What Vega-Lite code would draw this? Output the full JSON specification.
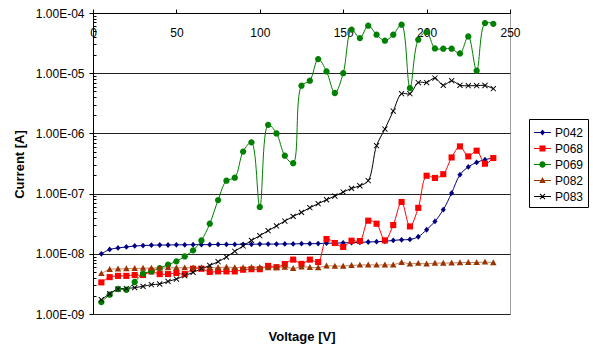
{
"$schema":"https://vega.github.io/schema/vega-lite/v6.json",
"width":417,"height":301,
"autosize":"none",
"padding":{"left":93,"top":13,"right":83,"bottom":33},
"background":"white",
"config":{"font":"Liberation Sans","view":{"stroke":"#a0a0a0","strokeWidth":1},
 "axis":{"labelColor":"#000","titleColor":"#000","domainColor":"#000","tickColor":"#000","labelFont":"Liberation Sans","titleFont":"Liberation Sans"},
 "legend":{"labelFont":"Liberation Sans"}},
"data":{"values":[
{"V":5,"s":"P042","I":1.0e-8},{"V":10,"s":"P042","I":1.18e-8},{"V":15,"s":"P042","I":1.25e-8},{"V":20,"s":"P042","I":1.3e-8},{"V":25,"s":"P042","I":1.35e-8},{"V":30,"s":"P042","I":1.37e-8},{"V":35,"s":"P042","I":1.39e-8},{"V":40,"s":"P042","I":1.4e-8},{"V":45,"s":"P042","I":1.4e-8},{"V":50,"s":"P042","I":1.41e-8},{"V":55,"s":"P042","I":1.41e-8},{"V":60,"s":"P042","I":1.42e-8},{"V":65,"s":"P042","I":1.42e-8},{"V":70,"s":"P042","I":1.42e-8},{"V":75,"s":"P042","I":1.43e-8},{"V":80,"s":"P042","I":1.43e-8},{"V":85,"s":"P042","I":1.43e-8},{"V":90,"s":"P042","I":1.44e-8},{"V":95,"s":"P042","I":1.44e-8},{"V":100,"s":"P042","I":1.45e-8},{"V":105,"s":"P042","I":1.45e-8},{"V":110,"s":"P042","I":1.45e-8},{"V":115,"s":"P042","I":1.46e-8},{"V":120,"s":"P042","I":1.46e-8},{"V":125,"s":"P042","I":1.47e-8},{"V":130,"s":"P042","I":1.47e-8},{"V":135,"s":"P042","I":1.48e-8},{"V":140,"s":"P042","I":1.5e-8},{"V":145,"s":"P042","I":1.5e-8},{"V":150,"s":"P042","I":1.52e-8},{"V":155,"s":"P042","I":1.53e-8},{"V":160,"s":"P042","I":1.55e-8},{"V":165,"s":"P042","I":1.57e-8},{"V":170,"s":"P042","I":1.59e-8},{"V":175,"s":"P042","I":1.61e-8},{"V":180,"s":"P042","I":1.67e-8},{"V":185,"s":"P042","I":1.71e-8},{"V":190,"s":"P042","I":1.73e-8},{"V":195,"s":"P042","I":1.92e-8},{"V":200,"s":"P042","I":2.51e-8},{"V":205,"s":"P042","I":3.45e-8},{"V":210,"s":"P042","I":5.4e-8},{"V":215,"s":"P042","I":1.02e-7},{"V":220,"s":"P042","I":2.06e-7},{"V":225,"s":"P042","I":2.77e-7},{"V":230,"s":"P042","I":3.3e-7},{"V":235,"s":"P042","I":3.66e-7},{"V":240,"s":"P042","I":3.9e-7},
{"V":5,"s":"P068","I":3.35e-9},{"V":10,"s":"P068","I":4.1e-9},{"V":15,"s":"P068","I":4.3e-9},{"V":20,"s":"P068","I":4.3e-9},{"V":25,"s":"P068","I":4.44e-9},{"V":30,"s":"P068","I":4.44e-9},{"V":35,"s":"P068","I":5.1e-9},{"V":40,"s":"P068","I":4.6e-9},{"V":45,"s":"P068","I":4.6e-9},{"V":50,"s":"P068","I":4.8e-9},{"V":55,"s":"P068","I":4.6e-9},{"V":60,"s":"P068","I":5.65e-9},{"V":65,"s":"P068","I":5.65e-9},{"V":70,"s":"P068","I":4.98e-9},{"V":75,"s":"P068","I":5.1e-9},{"V":80,"s":"P068","I":5.1e-9},{"V":85,"s":"P068","I":5.1e-9},{"V":90,"s":"P068","I":5.44e-9},{"V":95,"s":"P068","I":5.55e-9},{"V":100,"s":"P068","I":5.55e-9},{"V":105,"s":"P068","I":6.3e-9},{"V":110,"s":"P068","I":6.0e-9},{"V":115,"s":"P068","I":6.76e-9},{"V":120,"s":"P068","I":8.0e-9},{"V":125,"s":"P068","I":6.8e-9},{"V":130,"s":"P068","I":8.0e-9},{"V":135,"s":"P068","I":7.3e-9},{"V":140,"s":"P068","I":1.76e-8},{"V":145,"s":"P068","I":1.51e-8},{"V":150,"s":"P068","I":1.3e-8},{"V":155,"s":"P068","I":1.65e-8},{"V":160,"s":"P068","I":1.63e-8},{"V":165,"s":"P068","I":3.55e-8},{"V":170,"s":"P068","I":3.16e-8},{"V":175,"s":"P068","I":1.67e-8},{"V":180,"s":"P068","I":3.0e-8},{"V":185,"s":"P068","I":7.25e-8},{"V":190,"s":"P068","I":2.85e-8},{"V":195,"s":"P068","I":5.8e-8},{"V":200,"s":"P068","I":1.98e-7},{"V":205,"s":"P068","I":1.82e-7},{"V":210,"s":"P068","I":2.1e-7},{"V":215,"s":"P068","I":3.99e-7},{"V":220,"s":"P068","I":6.08e-7},{"V":225,"s":"P068","I":4.15e-7},{"V":230,"s":"P068","I":5.16e-7},{"V":235,"s":"P068","I":3.14e-7},{"V":240,"s":"P068","I":3.9e-7},
{"V":5,"s":"P069","I":1.58e-9},{"V":10,"s":"P069","I":2.09e-9},{"V":15,"s":"P069","I":2.6e-9},{"V":20,"s":"P069","I":2.53e-9},{"V":25,"s":"P069","I":3.4e-9},{"V":30,"s":"P069","I":4.67e-9},{"V":35,"s":"P069","I":5.1e-9},{"V":40,"s":"P069","I":5.8e-9},{"V":45,"s":"P069","I":6.6e-9},{"V":50,"s":"P069","I":7.5e-9},{"V":55,"s":"P069","I":9.05e-9},{"V":60,"s":"P069","I":1.14e-8},{"V":65,"s":"P069","I":1.67e-8},{"V":70,"s":"P069","I":3.16e-8},{"V":75,"s":"P069","I":7.8e-8},{"V":80,"s":"P069","I":1.64e-7},{"V":85,"s":"P069","I":1.84e-7},{"V":90,"s":"P069","I":5.0e-7},{"V":95,"s":"P069","I":7.1e-7},{"V":100,"s":"P069","I":6.0e-8},{"V":105,"s":"P069","I":1.39e-6},{"V":110,"s":"P069","I":1.0e-6},{"V":115,"s":"P069","I":4.26e-7},{"V":120,"s":"P069","I":3.2e-7},{"V":125,"s":"P069","I":6.2e-6},{"V":130,"s":"P069","I":7.5e-6},{"V":135,"s":"P069","I":1.72e-5},{"V":140,"s":"P069","I":1.07e-5},{"V":145,"s":"P069","I":4.69e-6},{"V":150,"s":"P069","I":1.0e-5},{"V":155,"s":"P069","I":5.3e-5},{"V":160,"s":"P069","I":3.84e-5},{"V":165,"s":"P069","I":6.15e-5},{"V":170,"s":"P069","I":4.36e-5},{"V":175,"s":"P069","I":3.47e-5},{"V":180,"s":"P069","I":4.36e-5},{"V":185,"s":"P069","I":6.4e-5},{"V":190,"s":"P069","I":5.67e-6},{"V":195,"s":"P069","I":3.6e-5},{"V":200,"s":"P069","I":4.83e-5},{"V":205,"s":"P069","I":2.58e-5},{"V":210,"s":"P069","I":2.55e-5},{"V":215,"s":"P069","I":2.55e-5},{"V":220,"s":"P069","I":2.13e-5},{"V":225,"s":"P069","I":4.08e-5},{"V":230,"s":"P069","I":1.1e-5},{"V":235,"s":"P069","I":6.8e-5},{"V":240,"s":"P069","I":6.6e-5},
{"V":5,"s":"P082","I":4.7e-9},{"V":10,"s":"P082","I":5.5e-9},{"V":15,"s":"P082","I":5.6e-9},{"V":20,"s":"P082","I":5.65e-9},{"V":25,"s":"P082","I":5.7e-9},{"V":30,"s":"P082","I":5.75e-9},{"V":35,"s":"P082","I":5.8e-9},{"V":40,"s":"P082","I":5.8e-9},{"V":45,"s":"P082","I":5.85e-9},{"V":50,"s":"P082","I":5.85e-9},{"V":55,"s":"P082","I":5.85e-9},{"V":60,"s":"P082","I":5.85e-9},{"V":65,"s":"P082","I":5.9e-9},{"V":70,"s":"P082","I":5.85e-9},{"V":75,"s":"P082","I":5.9e-9},{"V":80,"s":"P082","I":6.0e-9},{"V":85,"s":"P082","I":5.9e-9},{"V":90,"s":"P082","I":5.9e-9},{"V":95,"s":"P082","I":5.95e-9},{"V":100,"s":"P082","I":5.95e-9},{"V":105,"s":"P082","I":5.85e-9},{"V":110,"s":"P082","I":5.9e-9},{"V":115,"s":"P082","I":6.0e-9},{"V":120,"s":"P082","I":5.7e-9},{"V":125,"s":"P082","I":6.05e-9},{"V":130,"s":"P082","I":5.95e-9},{"V":135,"s":"P082","I":5.9e-9},{"V":140,"s":"P082","I":6.3e-9},{"V":145,"s":"P082","I":6.25e-9},{"V":150,"s":"P082","I":6.25e-9},{"V":155,"s":"P082","I":6.4e-9},{"V":160,"s":"P082","I":6.5e-9},{"V":165,"s":"P082","I":6.55e-9},{"V":170,"s":"P082","I":6.5e-9},{"V":175,"s":"P082","I":6.55e-9},{"V":180,"s":"P082","I":6.55e-9},{"V":185,"s":"P082","I":7.2e-9},{"V":190,"s":"P082","I":6.8e-9},{"V":195,"s":"P082","I":6.95e-9},{"V":200,"s":"P082","I":6.8e-9},{"V":205,"s":"P082","I":7.0e-9},{"V":210,"s":"P082","I":7.0e-9},{"V":215,"s":"P082","I":7.05e-9},{"V":220,"s":"P082","I":7.1e-9},{"V":225,"s":"P082","I":7.2e-9},{"V":230,"s":"P082","I":7.15e-9},{"V":235,"s":"P082","I":7.3e-9},{"V":240,"s":"P082","I":7.1e-9},
{"V":5,"s":"P083","I":1.73e-9},{"V":10,"s":"P083","I":2.17e-9},{"V":15,"s":"P083","I":2.6e-9},{"V":20,"s":"P083","I":2.65e-9},{"V":25,"s":"P083","I":2.74e-9},{"V":30,"s":"P083","I":2.88e-9},{"V":35,"s":"P083","I":3.07e-9},{"V":40,"s":"P083","I":3.15e-9},{"V":45,"s":"P083","I":3.48e-9},{"V":50,"s":"P083","I":3.81e-9},{"V":55,"s":"P083","I":4.33e-9},{"V":60,"s":"P083","I":4.91e-9},{"V":65,"s":"P083","I":5.65e-9},{"V":70,"s":"P083","I":6.41e-9},{"V":75,"s":"P083","I":7.4e-9},{"V":80,"s":"P083","I":8.85e-9},{"V":85,"s":"P083","I":1.1e-8},{"V":90,"s":"P083","I":1.35e-8},{"V":95,"s":"P083","I":1.67e-8},{"V":100,"s":"P083","I":2.0e-8},{"V":105,"s":"P083","I":2.42e-8},{"V":110,"s":"P083","I":2.9e-8},{"V":115,"s":"P083","I":3.5e-8},{"V":120,"s":"P083","I":4.18e-8},{"V":125,"s":"P083","I":4.88e-8},{"V":130,"s":"P083","I":5.83e-8},{"V":135,"s":"P083","I":6.8e-8},{"V":140,"s":"P083","I":7.9e-8},{"V":145,"s":"P083","I":9.1e-8},{"V":150,"s":"P083","I":1.06e-7},{"V":155,"s":"P083","I":1.22e-7},{"V":160,"s":"P083","I":1.35e-7},{"V":165,"s":"P083","I":1.64e-7},{"V":170,"s":"P083","I":6.25e-7},{"V":175,"s":"P083","I":1.18e-6},{"V":180,"s":"P083","I":2.35e-6},{"V":185,"s":"P083","I":4.56e-6},{"V":190,"s":"P083","I":4.56e-6},{"V":195,"s":"P083","I":7.0e-6},{"V":200,"s":"P083","I":7.0e-6},{"V":205,"s":"P083","I":8.3e-6},{"V":210,"s":"P083","I":6.3e-6},{"V":215,"s":"P083","I":7.5e-6},{"V":220,"s":"P083","I":6.3e-6},{"V":225,"s":"P083","I":6.2e-6},{"V":230,"s":"P083","I":6.2e-6},{"V":235,"s":"P083","I":6.25e-6},{"V":240,"s":"P083","I":5.53e-6}
]},
"encoding":{
 "x":{"field":"V","type":"quantitative","scale":{"domain":[0,250],"nice":false,"zero":false},
  "axis":{"orient":"top","values":[0,50,100,150,200,250],"grid":false,"tickSize":4,"labelPadding":-27,"labelBaseline":"alphabetic","labelFlush":false,"labelOverlap":false,"labelFontSize":12,
   "title":"Voltage [V]","titleFontSize":13,"titleFontWeight":"bold","titleX":208.5,"titleY":323,"titleBaseline":"middle","titleAlign":"center","titleAngle":0}},
 "y":{"field":"I","type":"quantitative","scale":{"type":"log","domain":[1e-9,1e-4],"nice":false},
  "axis":{"values":[1e-9,2e-9,3e-9,4e-9,5e-9,6e-9,7e-9,8e-9,9e-9,1e-8,2e-8,3e-8,4e-8,5e-8,6e-8,7e-8,8e-8,9e-8,1e-7,2e-7,3e-7,4e-7,5e-7,6e-7,7e-7,8e-7,9e-7,1e-6,2e-6,3e-6,4e-6,5e-6,6e-6,7e-6,8e-6,9e-6,1e-5,2e-5,3e-5,4e-5,5e-5,6e-5,7e-5,8e-5,9e-5,1e-4],
   "grid":true,"gridColor":"#222",
   "gridOpacity":{"condition":{"test":"abs(log(datum.value)/LN10 - round(log(datum.value)/LN10)) < 0.001","value":1},"value":0},
   "tickSize":{"condition":{"test":"abs(log(datum.value)/LN10 - round(log(datum.value)/LN10)) < 0.001","value":4},"value":-3},
   "labelExpr":"abs(log(datum.value)/LN10 - round(log(datum.value)/LN10)) < 0.001 ? '1.00E-0' + (-round(log(datum.value)/LN10)) : ''",
   "labelOverlap":false,"labelFontSize":12,"labelPadding":5,"labelFlush":false,
   "title":"Current [A]","titleFontSize":13,"titleFontWeight":"bold","titleX":-74,"titleY":151,"titleAngle":-90,"titleAlign":"center","titleBaseline":"middle"}}
},
"layer":[
 {"mark":{"type":"line","interpolate":"catmull-rom","strokeWidth":1},
  "encoding":{"stroke":{"field":"s","type":"nominal",
   "scale":{"range":["#000080","#ff0000","#008000","#c0805a","#000000"]},
   "legend":null}}},
 {"mark":{"type":"point","filled":true,"size":289,"opacity":1},
  "encoding":{
   "color":{"field":"s","type":"nominal",
    "scale":{"domain":["P042","P068","P069","P082","P083"],"range":["#000080","#ff0000","#008000","#993300","#000000"]},
    "legend":null},
   "shape":{"field":"s","type":"nominal",
    "scale":{"domain":["P042","P068","P069","P082","P083"],"range":["M0,-0.34L0.3,0L0,0.34L-0.3,0Z","M-0.36,-0.36H0.36V0.36H-0.36Z","M0.37,0A0.37,0.37,0,1,1,-0.37,0A0.37,0.37,0,1,1,0.37,0Z","M0,-0.4L0.38,0.3L-0.38,0.3Z","M-0.34,-0.26L-0.26,-0.34L0.34,0.26L0.26,0.34Z M-0.34,0.26L0.26,-0.34L0.34,-0.26L-0.26,0.34Z"]},
    "legend":null}}},
 {"transform":[{"filter":"false"}],
  "mark":{"type":"point","filled":true,"size":289,"opacity":1},
  "encoding":{
   "fill":{"field":"s","type":"nominal",
    "scale":{"domain":["P042","P068","P069","P082","P083"],"range":["#000080","#ff0000","#008000","#993300","#000000"]},
    "legend":{"title":null,"orient":"none","legendX":436,"legendY":106,"symbolSize":289,"symbolOpacity":1,"labelFontSize":12,"labelColor":"#000","padding":4,"rowPadding":0,"labelOffset":3,"strokeColor":"#000"}},
   "shape":{"field":"s","type":"nominal",
    "scale":{"domain":["P042","P068","P069","P082","P083"],"range":[
     "M-1,-0.06H-0.25V0.06H-1Z M0.25,-0.06H1V0.06H0.25Z M0,-0.34L0.3,0L0,0.34L-0.3,0Z",
     "M-1,-0.06H-0.36V0.06H-1Z M0.36,-0.06H1V0.06H0.36Z M-0.36,-0.36H0.36V0.36H-0.36Z",
     "M-1,-0.06H-0.34V0.06H-1Z M0.34,-0.06H1V0.06H0.34Z M0.37,0A0.37,0.37,0,1,1,-0.37,0A0.37,0.37,0,1,1,0.37,0Z",
     "M-1,-0.06H-0.2V0.06H-1Z M0.2,-0.06H1V0.06H0.2Z M0,-0.4L0.38,0.3L-0.38,0.3Z",
     "M-1,-0.06H-0.1V0.06H-1Z M0.1,-0.06H1V0.06H0.1Z M-0.34,-0.26L-0.26,-0.34L0.34,0.26L0.26,0.34Z M-0.34,0.26L0.26,-0.34L0.34,-0.26L-0.26,0.34Z"]},
    "legend":{"title":null,"orient":"none","legendX":436,"legendY":106,"symbolSize":289,"symbolOpacity":1,"labelFontSize":12,"labelColor":"#000","padding":4,"rowPadding":0,"labelOffset":3,"strokeColor":"#000"}},
   "strokeWidth":{"value":0},
   "size":{"value":289}}}
],
"resolve":{"scale":{"fill":"independent","shape":"independent"}}
}
